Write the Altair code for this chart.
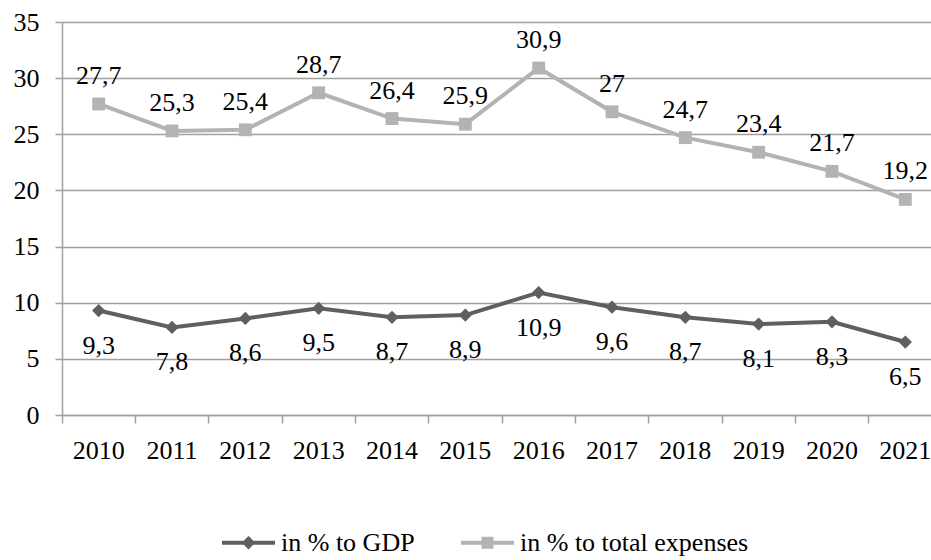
import altair as alt
import pandas as pd

years = ["2010", "2011", "2012", "2013", "2014", "2015", "2016", "2017", "2018", "2019", "2020", "2021"]
gdp = [9.3, 7.8, 8.6, 9.5, 8.7, 8.9, 10.9, 9.6, 8.7, 8.1, 8.3, 6.5]
expenses = [27.7, 25.3, 25.4, 28.7, 26.4, 25.9, 30.9, 27.0, 24.7, 23.4, 21.7, 19.2]
series_names = ["in % to GDP", "in % to total expenses"]
series_colors = ["#5f5f5f", "#b3b3b3"]
legend_paths = [
    "M-1,0H1M0,-0.15L0.15,0L0,0.15L-0.15,0Z",
    "M-1,0H1M-0.15,-0.15H0.15V0.15H-0.15Z",
]
y_ticks = [0, 5, 10, 15, 20, 25, 30, 35]

rows = []
for name, vals in zip(series_names, [gdp, expenses]):
    for yr, v in zip(years, vals):
        rows.append({"year": yr, "value": v, "series": name})
df = pd.DataFrame(rows)

FONT = "Liberation Serif"
FS = 26
GRID = "#a0a0a0"

xenc = alt.X(
    "year:O",
    bandPosition=0.5,
    sort=years,
    scale=alt.Scale(type="band", range=[0, 880], paddingInner=0, paddingOuter=0),
    axis=alt.Axis(
        title=None, labelAngle=0, bandPosition=0,
        tickSize=8, tickColor=GRID, tickWidth=1.5, domainColor=GRID, domainWidth=1.5,
        labelFont=FONT, labelFontSize=FS, labelColor="black", labelPadding=14,
        labelOverlap=False, labelBound=False, labelFlush=False, grid=False,
    ),
)
yenc = alt.Y(
    "value:Q",
    scale=alt.Scale(domain=[0, 35], nice=False, zero=True),
    axis=alt.Axis(
        title=None, values=y_ticks, tickSize=7, tickColor=GRID, tickWidth=1.5,
        domainColor=GRID, domainWidth=1.5, grid=True, gridColor=GRID, gridWidth=1.5,
        labelFont=FONT, labelFontSize=FS, labelColor="black", labelPadding=16,
    ),
)

LEG = alt.Legend(
    title=None, orient="none", direction="horizontal", legendX=158, legendY=492,
    symbolSize=2809, symbolStrokeWidth=4, symbolOpacity=1,
    labelFont=FONT, labelFontSize=FS, labelColor="black",
    labelLimit=0, labelOffset=4, columnPadding=38, padding=0,
)

cscale = alt.Scale(domain=series_names, range=series_colors)
base = alt.Chart(df).encode(x=xenc, y=yenc)

legend_layer = base.mark_point(opacity=0, strokeWidth=4, filled=False).encode(
    shape=alt.Shape("series:N", scale=alt.Scale(domain=series_names, range=legend_paths), legend=LEG),
    fill=alt.Fill("series:N", scale=cscale, legend=LEG),
    stroke=alt.Stroke("series:N", scale=cscale, legend=LEG),
)

lines = base.mark_line(strokeWidth=4).encode(
    color=alt.Color("series:N", scale=cscale, legend=None), order=alt.Order("year:O")
)
pts_gdp = base.transform_filter(alt.datum.series == series_names[0]).mark_point(
    filled=True, size=175, opacity=1, shape="diamond", color=series_colors[0]
)
pts_exp = base.transform_filter(alt.datum.series == series_names[1]).mark_point(
    filled=True, size=165, opacity=1, shape="square", color=series_colors[1]
)

label_expr = "replace(format(datum.value, '.1~f'), '.', ',')"
text_top = base.transform_filter(
    alt.datum.series == series_names[1]
).transform_calculate(lab=label_expr).mark_text(
    font=FONT, fontSize=FS, color="black", baseline="middle", dy=-28
).encode(text="lab:N")
text_bot = base.transform_filter(
    alt.datum.series == series_names[0]
).transform_calculate(lab=label_expr).mark_text(
    font=FONT, fontSize=FS, color="black", baseline="middle", dy=35
).encode(text="lab:N")

chart = alt.layer(legend_layer, lines, pts_exp, pts_gdp, text_top, text_bot).properties(
    width=869, height=393,
    autosize=alt.AutoSizeParams(type="none"),
    padding={"left": 62, "top": 22, "right": 0, "bottom": 145},
    background="white",
).configure(font=FONT).configure_text(font=FONT).configure_view(stroke=None)

chart.save("out.html", embed_options={"renderer": "svg", "actions": False})
